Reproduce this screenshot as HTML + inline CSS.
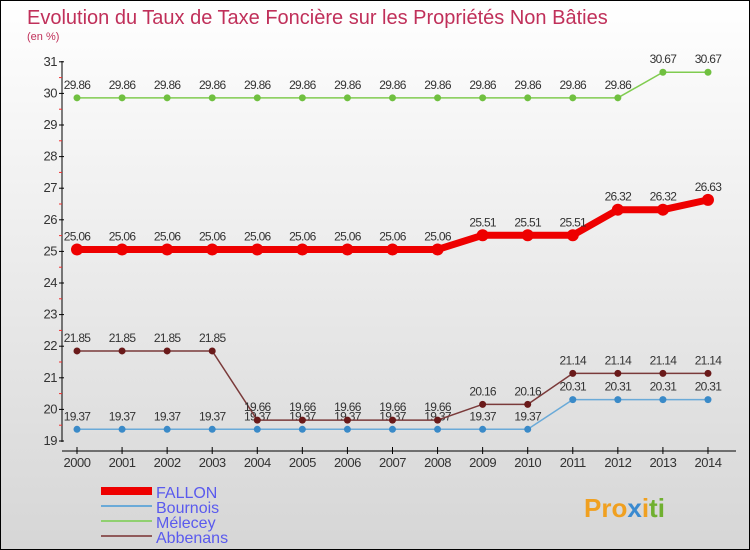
<!DOCTYPE html>
<html><head><meta charset="utf-8"><style>
body{margin:0}
#c{width:750px;height:550px;position:relative;box-sizing:border-box;border:1px solid #000;background:linear-gradient(#ffffff,#d6d6d6);font-family:"Liberation Sans",sans-serif;overflow:hidden}
svg text{font-family:"Liberation Sans",sans-serif}
</style></head><body>
<div id="c">
<svg id="s" width="750" height="550">
<text x="26" y="23" font-size="20" fill="#c0305a">Evolution du Taux de Taxe Foncière sur les Propriétés Non Bâties</text>
<text x="26" y="39" font-size="11" fill="#c0305a">(en %)</text>
<g id="g"></g>
<text x="583" y="516" font-size="26" font-weight="bold"><tspan fill="#f0a020">Pro</tspan><tspan fill="#3a8ad0">x</tspan><tspan fill="#f0a020">i</tspan><tspan fill="#70b030">ti</tspan></text>
</svg>
</div>
<script>
const years=[2000,2001,2002,2003,2004,2005,2006,2007,2008,2009,2010,2011,2012,2013,2014];
const yTicks=[19,20,21,22,23,24,25,26,27,28,29,30,31];
const fallon=[25.06,25.06,25.06,25.06,25.06,25.06,25.06,25.06,25.06,25.51,25.51,25.51,26.32,26.32,26.63];
const bournois=[19.37,19.37,19.37,19.37,19.37,19.37,19.37,19.37,19.37,19.37,19.37,20.31,20.31,20.31,20.31];
const melecey=[29.86,29.86,29.86,29.86,29.86,29.86,29.86,29.86,29.86,29.86,29.86,29.86,29.86,30.67,30.67];
const abbenans=[21.85,21.85,21.85,21.85,19.66,19.66,19.66,19.66,19.66,20.16,20.16,21.14,21.14,21.14,21.14];
const names=['FALLON','Bournois','Mélecey','Abbenans'];
const X=i=>76+i*45.07, Y=v=>440-(v-19)*31.6;
const g=document.getElementById('g'),NS='http://www.w3.org/2000/svg';
function mk(t,a,p){const e=document.createElementNS(NS,t);for(const k in a)e.setAttribute(k,a[k]);(p||g).appendChild(e);return e;}
let e;
e=mk('line',{x1:61,y1:60,x2:61,y2:441,stroke:'#000'});


e=mk('line',{x1:61,y1:450,x2:735,y2:450,stroke:'#000'});


yTicks.forEach(v=>{
 mk('line',{x1:58,y1:Y(v),x2:63,y2:Y(v),stroke:'#000'});
 if(v<31)mk('line',{x1:58,y1:Y(v+0.5),x2:61,y2:Y(v+0.5),stroke:'#f03030'});
 e=mk('text',{x:56,y:Y(v)+4,'font-size':13,fill:'#333','text-anchor':'end','letter-spacing':'-0.5'});e.textContent=v;
 
 
});
years.forEach((yr,i)=>{
 mk('line',{x1:X(i),y1:446,x2:X(i),y2:453,stroke:'#000'});
 e=mk('text',{x:X(i),y:466,'font-size':13,fill:'#333','text-anchor':'middle','letter-spacing':'-0.5'});e.textContent=yr;
 
 
});
const series=[[melecey,'#80cc50','#70c040',1.5,3.5],[bournois,'#6aaad8','#3a8ac8',1.5,3.5],[abbenans,'#7a3a3a','#6a1a1a',1.5,3.5],[fallon,'#ee0000','#ee0000',7,6]];
series.forEach(([d,c,dc,w,r])=>{
 e=mk('polyline',{points:d.map((v,i)=>X(i)+','+Y(v)).join(' '),fill:'none',stroke:c,'stroke-width':w});
 
 
 d.forEach((v,i)=>{
  e=mk('circle',{cx:X(i),cy:Y(v),r:r,fill:dc});
  
  
  e=mk('text',{x:X(i),y:Y(v)-9,'font-size':12,fill:'#333','text-anchor':'middle','letter-spacing':'-0.7'});e.textContent=v.toFixed(2);
  
  
 });
});
const lc=['#ee0000','#6aaad8','#90d070','#905a5a'],lw=[8,2,2,2];
names.forEach((n,i)=>{
 const y=493+i*15;
 e=mk('line',{x1:100,y1:y-3,x2:151,y2:y-3,stroke:lc[i],'stroke-width':lw[i]});
 
 
 e=mk('text',{x:155,y:y+4,'font-size':16,fill:'#5a5aee'});e.textContent=n;
 
 
});
</script>
</body></html>
